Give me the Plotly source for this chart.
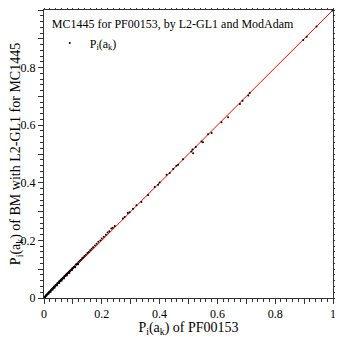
import plotly.graph_objects as go

# P_i(a_k) of PF00153 (x) vs P_i(a_k) of BM with L2-GL1 for MC1445 (y)
pf_x = [0.001, 0.002, 0.003, 0.004, 0.005, 0.007, 0.008, 0.009, 0.010, 0.012,
        0.013, 0.015, 0.016, 0.017, 0.018, 0.020, 0.022, 0.023, 0.024, 0.025,
        0.027, 0.029, 0.030, 0.031, 0.033, 0.034, 0.036, 0.037, 0.038, 0.040,
        0.042, 0.044, 0.045, 0.046, 0.048, 0.050, 0.052, 0.053, 0.054, 0.056,
        0.058, 0.060, 0.061, 0.062, 0.064, 0.066, 0.068, 0.069, 0.070, 0.072,
        0.074, 0.076, 0.078, 0.079, 0.080, 0.082, 0.085, 0.087, 0.088, 0.090,
        0.092, 0.095, 0.097, 0.098, 0.100, 0.103, 0.106, 0.108, 0.110, 0.113,
        0.116, 0.118, 0.120, 0.124, 0.128, 0.132, 0.136, 0.140, 0.145, 0.150,
        0.155, 0.160, 0.165, 0.170, 0.176, 0.182, 0.188, 0.195, 0.200, 0.207,
        0.214, 0.220, 0.226, 0.233, 0.238, 0.245, 0.273, 0.279, 0.290, 0.296,
        0.308, 0.320, 0.337, 0.360, 0.383, 0.395, 0.400, 0.424, 0.435, 0.447,
        0.458, 0.464, 0.481, 0.510, 0.514, 0.516, 0.525, 0.545, 0.550, 0.568,
        0.580, 0.614, 0.637, 0.678, 0.687, 0.707, 0.712, 0.897, 0.909, 0.943,
        0.998]
mc_y = [0.001, 0.002, 0.004, 0.003, 0.007, 0.008, 0.011, 0.009, 0.012, 0.013,
        0.016, 0.017, 0.015, 0.019, 0.022, 0.023, 0.024, 0.021, 0.027, 0.029,
        0.030, 0.033, 0.029, 0.034, 0.036, 0.039, 0.040, 0.036, 0.041, 0.045,
        0.046, 0.047, 0.043, 0.051, 0.052, 0.053, 0.057, 0.052, 0.058, 0.060,
        0.063, 0.064, 0.060, 0.066, 0.069, 0.070, 0.072, 0.068, 0.075, 0.076,
        0.078, 0.081, 0.083, 0.078, 0.084, 0.087, 0.089, 0.092, 0.087, 0.095,
        0.096, 0.100, 0.097, 0.103, 0.104, 0.108, 0.110, 0.107, 0.116, 0.117,
        0.121, 0.117, 0.126, 0.129, 0.133, 0.138, 0.141, 0.146, 0.150, 0.156,
        0.160, 0.166, 0.171, 0.176, 0.182, 0.188, 0.195, 0.200, 0.207, 0.213,
        0.220, 0.227, 0.232, 0.241, 0.244, 0.250, 0.276, 0.281, 0.295, 0.298,
        0.310, 0.322, 0.333, 0.358, 0.385, 0.393, 0.401, 0.428, 0.434, 0.448,
        0.459, 0.463, 0.482, 0.509, 0.516, 0.503, 0.524, 0.543, 0.541, 0.569,
        0.573, 0.610, 0.628, 0.674, 0.685, 0.703, 0.712, 0.896, 0.907, 0.943,
        0.998]

# identity reference line
diag_x = [0, 1]
diag_y = [0, 1]

tick_vals = [0, 0.1, 0.2, 0.3, 0.4, 0.5, 0.6, 0.7, 0.8, 0.9, 1]
tick_text = ["0", "", "0.2", "", "0.4", "", "0.6", "", "0.8", "", "1"]

FONT = "Liberation Serif, Times New Roman, serif"

fig = go.Figure()
fig.add_trace(go.Scatter(x=diag_x, y=diag_y, mode="lines",
                         line=dict(color="red", width=1), showlegend=False,
                         hoverinfo="skip"))
fig.add_trace(go.Scatter(x=pf_x, y=mc_y, mode="markers",
                         marker=dict(color="black", size=2),
                         name="P<sub>i</sub>(a<sub>k</sub>)"))

axis = dict(range=[0, 1], tickvals=tick_vals, ticktext=tick_text,
            ticks="outside", ticklen=5, tickwidth=1, tickcolor="#333",
            showline=True, linecolor="#333", linewidth=1, mirror="ticks",
            showgrid=False, zeroline=False, automargin=False,
            minor=dict(dtick=0.02, ticks="outside", ticklen=3,
                       tickcolor="#333", showgrid=False),
            tickfont=dict(family=FONT, size=12, color="black"))

# page body adds an 8px margin, so the figure is sized/offset to compensate
fig.update_layout(
    width=335, height=329,
    margin=dict(l=36, r=10, t=2, b=39),
    plot_bgcolor="white", paper_bgcolor="white",
    font=dict(family=FONT, size=12, color="black"),
    xaxis=dict(axis, title=dict(text="P<sub>i</sub>(a<sub>k</sub>) of PF00153",
                                standoff=0)),
    yaxis=dict(axis, title=dict(text="P<sub>i</sub>(a<sub>k</sub>) of BM with L2-GL1 for MC1445",
                                standoff=0)),
    legend=dict(x=0.02, y=0.99, xanchor="left", yanchor="top",
                bgcolor="rgba(0,0,0,0)", borderwidth=0,
                title=dict(text="MC1445 for PF00153, by L2-GL1 and ModAdam",
                           font=dict(family=FONT, size=12)),
                font=dict(family=FONT, size=12)),
)

fig.write_html("out.html")
